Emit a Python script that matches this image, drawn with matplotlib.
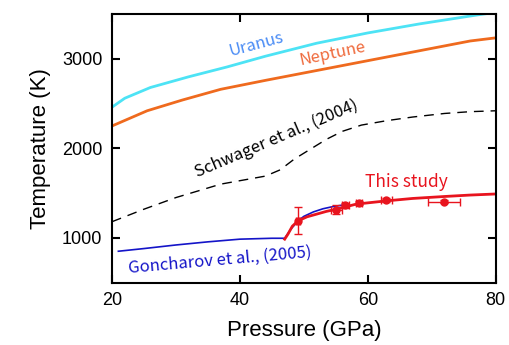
import matplotlib
matplotlib.use('Agg')
import matplotlib.pyplot as plt

# curves (pressure in GPa, temperature in K)
uranus_p = [20, 22, 26, 32, 38, 44, 52, 60, 68, 77, 80]
uranus_t = [2460, 2560, 2680, 2800, 2910, 3030, 3175, 3290, 3390, 3490, 3520]

neptune_p = [20, 25.5, 31, 37, 44, 52, 60, 68, 76, 80]
neptune_t = [2250, 2420, 2540, 2660, 2760, 2870, 2980, 3090, 3200, 3235]

schwager_p = [20, 25, 30, 37, 44, 46.3, 48.5, 51, 53.5, 56, 59, 63, 67, 72, 76, 80]
schwager_t = [1180, 1320, 1450, 1600, 1690, 1760, 1880, 1990, 2100, 2190, 2260, 2310, 2350, 2390, 2410, 2420]

goncharov_p = [21, 25, 30, 35, 40, 45, 47, 48, 49.1, 50, 51.5, 53, 54.6, 56]
goncharov_t = [850, 880, 920, 955, 985, 995, 995, 1100, 1190, 1240, 1290, 1325, 1350, 1365]

study_p = [47, 47.5, 48.2, 49.1, 50.5, 52, 53.5, 55.1, 58.2, 62.9, 67, 72, 76, 80]
study_t = [985, 1040, 1130, 1190, 1235, 1265, 1295, 1320, 1377, 1413, 1440, 1462, 1478, 1490]

# measured points with error bars
pts_p = [49.1, 55.1, 56.5, 58.6, 62.9, 71.9]
pts_t = [1190, 1315, 1362, 1390, 1423, 1405]
pts_perr = [0.3, 0.8, 0.5, 0.5, 0.8, 2.5]
pts_terr = [150, 50, 25, 20, 25, 20]

plt.rcParams['font.family'] = ['Liberation Sans', 'DejaVu Sans']

fig = plt.figure(figsize=(5.09, 3.45), dpi=100)
ax = fig.add_axes([0.220, 0.181, 0.754, 0.778])

ax.plot(uranus_p, uranus_t, color='#4de3f5', lw=2)
ax.plot(neptune_p, neptune_t, color='#ef6a1e', lw=2)
ax.plot(schwager_p, schwager_t, color='black', lw=1, ls=(0, (7, 5)))
ax.plot(goncharov_p, goncharov_t, color='#1414c8', lw=1.2)
ax.plot(study_p, study_t, color='#e8141e', lw=2)
ax.errorbar(pts_p, pts_t, xerr=pts_perr, yerr=pts_terr, fmt='o', ms=5,
            color='#e8141e', ecolor='#e8141e', elinewidth=1, capsize=3)

jp = ['Noto Sans CJK JP', 'DejaVu Sans']
ax.text(42.6, 3160, 'Uranus', color='#4a8cf5', fontsize=12, rotation=15,
        ha='center', va='center', family=jp)
ax.text(54.5, 3060, 'Neptune', color='#ef6a3c', fontsize=12, rotation=12,
        ha='center', va='center', family=jp)
ax.text(45.7, 2103, 'Schwager et al., (2004)', color='black', fontsize=12,
        rotation=23, ha='center', va='center', family=jp)
ax.text(66, 1629, 'This study', color='#e8141e', fontsize=12.5,
        ha='center', va='center', family=jp)
ax.text(36.9, 745, 'Goncharov et al., (2005)', color='#1414c8', fontsize=12,
        rotation=5, ha='center', va='center', family=jp)

ax.set_xlim(20, 80)
ax.set_ylim(500, 3500)
ax.set_xticks([20, 40, 60, 80])
ax.set_yticks([1000, 2000, 3000])
ax.tick_params(direction='in', top=True, right=True, length=6, width=1.5,
               labelsize=13, pad=7)
for s in ax.spines.values():
    s.set_linewidth(1.5)

ax.set_xlabel('Pressure (GPa)', fontsize=16, labelpad=8)
ax.set_ylabel('Temperature (K)', fontsize=16, labelpad=8)

fig.savefig('out.png', dpi=100)
